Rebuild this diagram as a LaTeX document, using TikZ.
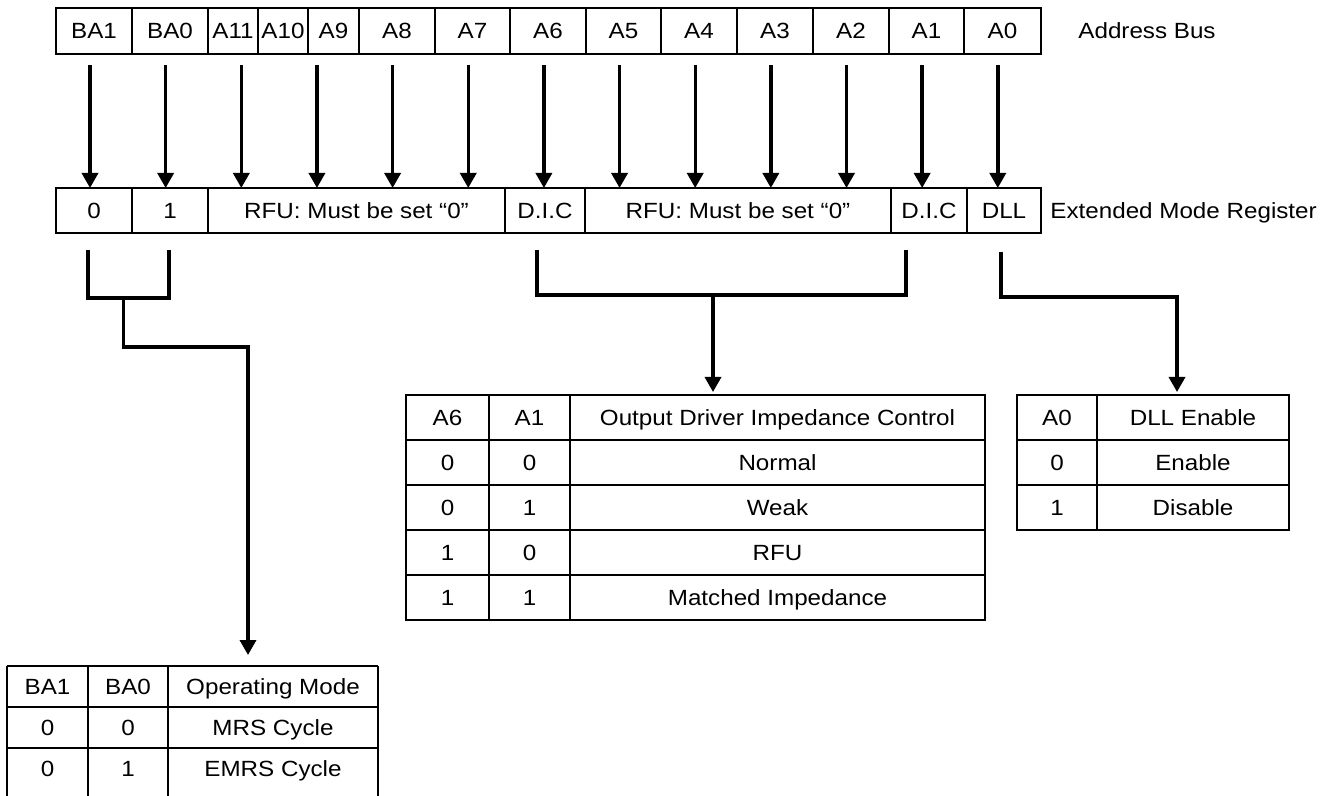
\documentclass[tikz,border=0pt]{standalone}
\usepackage{fontspec}
\setmainfont{Liberation Sans}[FakeStretch=1.1]
\usetikzlibrary{arrows.meta}

\tikzset{
  box/.style={line width=1.1pt},
  wire/.style={line width=1.7pt},
  arr/.style={wire, -{Triangle[width=8pt,length=7.5pt]}},
  lbl/.style={inner sep=0pt, text height=7.9pt, text depth=0pt},
}

\begin{document}
\begin{tikzpicture}[x=0.5pt, y=-0.5pt, font=\fontsize{11}{13}\selectfont]

  % Rahmen
  \useasboundingbox (0,0) rectangle (1327,796);
  \fill[white] (0,0) rectangle (1327,796);
  \clip (0,0) rectangle (1327,796);

  % Address bus
  \foreach \l/\r/\t in {56/132/BA1, 132/208/BA0, 208/258/A11, 258/308/A10, 308/359/A9,
      359/435/A8, 435/510/A7, 510/586/A6, 586/661/A5, 661/737/A4, 737/813/A3,
      813/889/A2, 889/964/A1, 964/1041/A0} {
    \draw[box] (\l,8) rectangle (\r,54);
    \node[lbl] (bus\t) at ({(\l+\r)/2},31) {\t};
  }
  \node[lbl, anchor=west] (busname) at (1078,31) {Address Bus};

  % Arrows bus -> register
  \foreach \i in {0,...,12} {
    \coordinate (top\i) at (90+75.65*\i,65);
    \coordinate (tip\i) at (90+75.65*\i,188);
    \draw[arr] (top\i) -- (tip\i);
  }

  % Extended mode register
  \foreach \l/\r/\t/\n in {56/132/0/regBA1, 132/208/1/regBA0, 208/505/{RFU: Must be set “0”}/regRFUa,
      505/585/D.I.C/regDICa, 585/891/{RFU: Must be set “0”}/regRFUb, 891/967/D.I.C/regDICb,
      967/1041/DLL/regDLL} {
    \draw[box] (\l,188) rectangle (\r,233);
    \node[lbl] (\n) at ({(\l+\r)/2},210.5) {\t};
  }
  \node[lbl, anchor=west] (regname) at (1050,210.5) {Extended Mode Register};

  % BA1/BA0 -> operating mode
  \coordinate (baL) at (88,250);
  \coordinate (baR) at (169,250);
  \coordinate (baMid) at (123.5,298);
  \coordinate (modeIn) at (248,655);
  \draw[wire] (baL) -- ++(0,48) -| (baR);
  \draw[arr] (baMid) -- ++(0,49) -| (modeIn);

  % A6/A1 -> driver impedance
  \coordinate (dicL) at (537,250);
  \coordinate (dicR) at (906,250);
  \coordinate (dicMid) at (713,295);
  \coordinate (dicIn) at (713,392);
  \draw[wire] (dicL) -- ++(0,45) -| (dicR);
  \draw[arr] (dicMid) -- (dicIn);

  % A0 -> DLL
  \coordinate (dllTop) at (1001,252);
  \coordinate (dllIn) at (1177,392);
  \draw[arr] (dllTop) -- ++(0,45) -| (dllIn);

  % Tabelle: driver impedance
  \draw[box] (406,395) rectangle (985,620);
  \foreach \y in {440,485,530,575} \draw[box] (406,\y) -- (985,\y);
  \foreach \x in {489,570} \draw[box] (\x,395) -- (\x,620);
  \foreach \y/\a/\b/\c [count=\k] in {417.5/A6/A1/{Output Driver Impedance Control},
      462.5/0/0/Normal, 507.5/0/1/Weak, 552.5/1/0/RFU, 597.5/1/1/{Matched Impedance}} {
    \node[lbl] (dicA\k) at (447.5,\y) {\a};
    \node[lbl] (dicB\k) at (529.5,\y) {\b};
    \node[lbl] (dicC\k) at (777.5,\y) {\c};
  }

  % Tabelle: DLL
  \draw[box] (1017,395) rectangle (1289,530);
  \foreach \y in {440,485} \draw[box] (1017,\y) -- (1289,\y);
  \draw[box] (1097,395) -- (1097,530);
  \foreach \y/\a/\c [count=\k] in {417.5/A0/{DLL Enable}, 462.5/0/Enable, 507.5/1/Disable} {
    \node[lbl] (dllA\k) at (1057,\y) {\a};
    \node[lbl] (dllC\k) at (1193,\y) {\c};
  }

  % Tabelle: operating mode (unten abgeschnitten)
  \foreach \y in {666,707,748} \draw[box] (7,\y) -- (378,\y);
  \foreach \x in {7,88,168,378} \draw[box] (\x,666) -- (\x,800);
  \foreach \y/\a/\b/\c [count=\k] in {686.5/BA1/BA0/{Operating Mode},
      727.5/0/0/{MRS Cycle}, 769/0/1/{EMRS Cycle}} {
    \node[lbl] (modeA\k) at (47.5,\y) {\a};
    \node[lbl] (modeB\k) at (128,\y) {\b};
    \node[lbl] (modeC\k) at (273,\y) {\c};
  }

\end{tikzpicture}
\end{document}
